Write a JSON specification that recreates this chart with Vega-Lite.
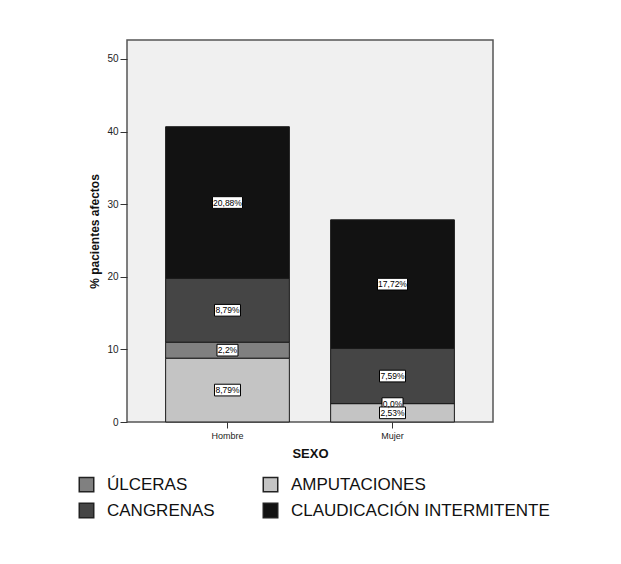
{
  "$schema": "https://vega.github.io/schema/vega-lite/v6.json",
  "width": 366,
  "height": 382,
  "autosize": {"type": "none"},
  "padding": {"left": 127, "top": 40, "right": 128, "bottom": 142},
  "background": "white",
  "data": {
    "values": [
      {"sexo": "Hombre", "tipo": "AMPUTACIONES", "valor": 8.79, "etiqueta": "8,79%"},
      {"sexo": "Hombre", "tipo": "ÚLCERAS", "valor": 2.2, "etiqueta": "2,2%"},
      {"sexo": "Hombre", "tipo": "CANGRENAS", "valor": 8.79, "etiqueta": "8,79%"},
      {"sexo": "Hombre", "tipo": "CLAUDICACIÓN INTERMITENTE", "valor": 20.88, "etiqueta": "20,88%"},
      {"sexo": "Mujer", "tipo": "ÚLCERAS", "valor": 0.0, "etiqueta": "0,0%"},
      {"sexo": "Mujer", "tipo": "AMPUTACIONES", "valor": 2.53, "etiqueta": "2,53%"},
      {"sexo": "Mujer", "tipo": "CANGRENAS", "valor": 7.59, "etiqueta": "7,59%"},
      {"sexo": "Mujer", "tipo": "CLAUDICACIÓN INTERMITENTE", "valor": 17.72, "etiqueta": "17,72%"}
    ]
  },
  "transform": [
    {"calculate": "indexof(['AMPUTACIONES','ÚLCERAS','CANGRENAS','CLAUDICACIÓN INTERMITENTE'], datum.tipo)", "as": "orden"},
    {"stack": "valor", "groupby": ["sexo"], "sort": [{"field": "orden", "order": "ascending"}], "as": ["y0", "y1"]},
    {"calculate": "(datum.y0 + datum.y1) / 2", "as": "ymid"},
    {"calculate": "length(datum.etiqueta)", "as": "len"}
  ],
  "encoding": {
    "x": {
      "field": "sexo",
      "type": "nominal",
      "title": "SEXO",
      "scale": {"paddingInner": 0.25, "paddingOuter": 0.234},
      "axis": {
        "labelAngle": 0,
        "tickSize": 6,
        "labelPadding": 3,
        "titlePadding": 7,
        "titleFontSize": 13,
        "titleFontWeight": "bold",
        "labelFontSize": 9
      }
    }
  },
  "layer": [
    {
      "mark": {"type": "bar", "stroke": "#1a1a1a", "strokeWidth": 1},
      "encoding": {
        "y": {
          "field": "y0",
          "type": "quantitative",
          "title": "% pacientes afectos",
          "scale": {"domain": [0, 52.6], "nice": false},
          "axis": {
            "values": [0, 10, 20, 30, 40, 50],
            "tickSize": 7,
            "labelPadding": 2,
            "labelFontSize": 10,
            "titleFontSize": 12,
            "titleFontWeight": "bold",
            "titleX": -33,
            "titleBaseline": "middle"
          }
        },
        "y2": {"field": "y1"},
        "color": {
          "field": "tipo",
          "type": "nominal",
          "scale": {
            "domain": ["ÚLCERAS", "CANGRENAS", "AMPUTACIONES", "CLAUDICACIÓN INTERMITENTE"],
            "range": ["#808080", "#454545", "#c4c4c4", "#121212"]
          },
          "legend": {
            "orient": "none",
            "legendX": -49,
            "legendY": 436,
            "columns": 2,
            "title": null,
            "symbolType": "square",
            "symbolSize": 210,
            "symbolStrokeColor": "#222",
            "symbolStrokeWidth": 1.5,
            "symbolOpacity": 1,
            "labelFontSize": 17,
            "labelFont": "Liberation Sans",
            "labelColor": "#111",
            "labelOffset": 12,
            "labelLimit": 400,
            "rowPadding": 5,
            "columnPadding": 45,
            "padding": 0
          }
        }
      }
    },
    {
      "mark": {"type": "point", "filled": true, "fill": "white", "stroke": "#000", "strokeWidth": 1, "opacity": 1, "size": 900},
      "encoding": {
        "y": {"field": "ymid", "type": "quantitative"},
        "shape": {
          "field": "len",
          "type": "ordinal",
          "scale": {
            "domain": [4, 5, 6],
            "range": [
              "M-0.7,-0.39L0.7,-0.39L0.7,0.39L-0.7,0.39Z",
              "M-0.867,-0.39L0.867,-0.39L0.867,0.39L-0.867,0.39Z",
              "M-1,-0.39L1,-0.39L1,0.39L-1,0.39Z"
            ]
          },
          "legend": null
        }
      }
    },
    {
      "mark": {"type": "text", "font": "Liberation Sans", "fontSize": 8.5, "color": "#000", "baseline": "middle"},
      "encoding": {
        "y": {"field": "ymid", "type": "quantitative"},
        "text": {"field": "etiqueta"}
      }
    }
  ],
  "config": {
    "view": {"fill": "#f0f0f0", "stroke": "#555", "strokeWidth": 1.5},
    "axis": {
      "labelFont": "Liberation Sans",
      "titleFont": "Liberation Sans",
      "grid": false,
      "domain": false,
      "tickColor": "#333",
      "labelColor": "#222",
      "titleColor": "#111"
    }
  }
}
